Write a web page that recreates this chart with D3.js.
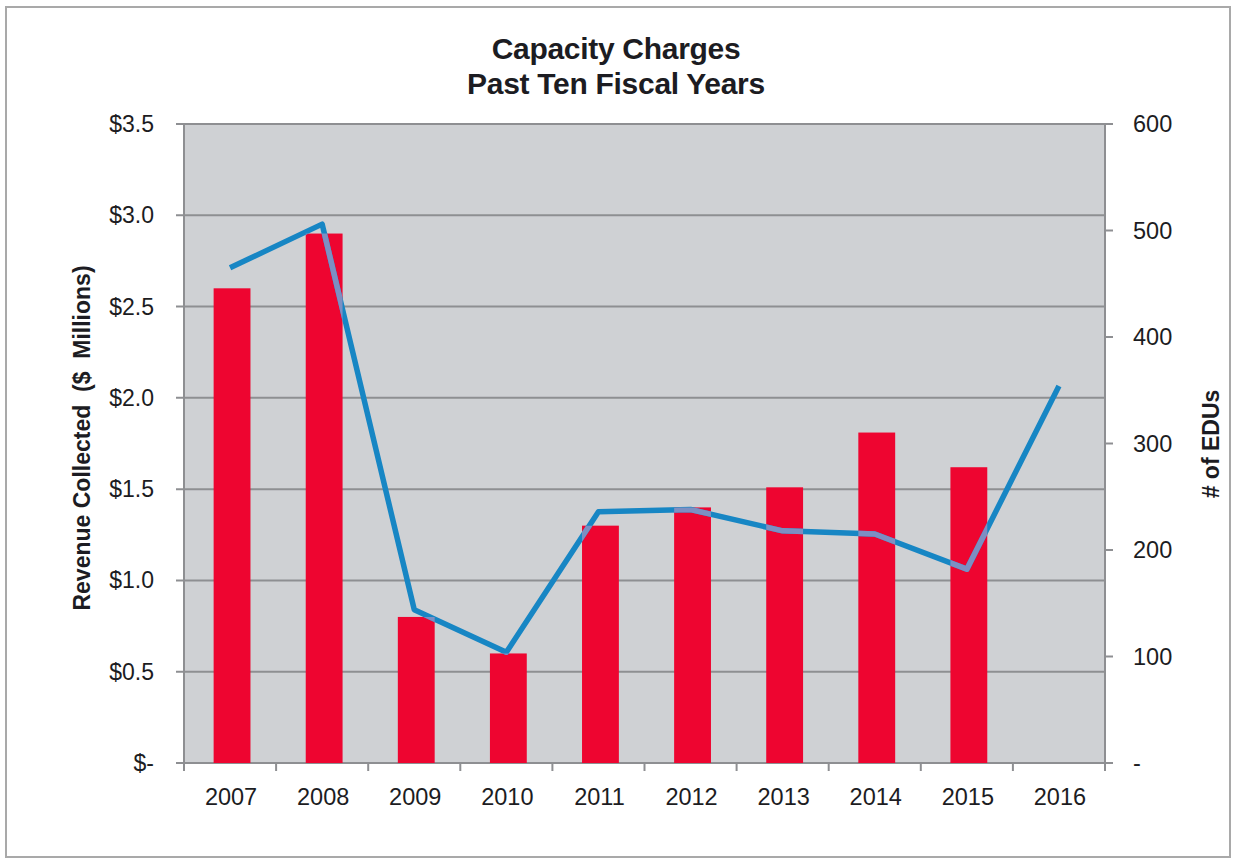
<!DOCTYPE html>
<html>
<head>
<meta charset="utf-8">
<script src="https://cdn.jsdelivr.net/npm/d3@7"></script>
<style>
  body { margin: 0; background: #fff; }
  svg text { font-family: "Liberation Sans", Arial, sans-serif; fill: #1c1c22; }
</style>
</head>
<body>
<div id="theChart"></div>
<script>
const years = ["2007", "2008", "2009", "2010", "2011", "2012", "2013", "2014", "2015", "2016"]
const revenue = [2.6, 2.9, 0.8, 0.6, 1.3, 1.4, 1.51, 1.81, 1.62, null]
const edus = [465, 506, 144, 104, 236, 238, 218, 215, 182, 354]
const leftTicks = [0, 0.5, 1, 1.5, 2, 2.5, 3, 3.5]
const rightTicks = [0, 100, 200, 300, 400, 500, 600]

const w = 1236
const h = 860
const plot = { left: 184, right: 1105, top: 124, bottom: 763 }

const svg = d3.select("#theChart")
  .append("svg")
  .attr("width", w)
  .attr("height", h)

// outer frame
svg.append("rect")
  .attr("x", 6).attr("y", 7)
  .attr("width", 1224).attr("height", 850)
  .attr("fill", "none")
  .attr("stroke", "#a9a9a9")
  .attr("stroke-width", 2)

const x = d3.scaleBand()
  .domain(years)
  .range([plot.left, plot.right])
  .paddingInner(0.6)
  .paddingOuter(0.3)

const xBand = d3.scaleBand().domain(years).range([plot.left, plot.right])

const yL = d3.scaleLinear().domain([0, 3.5]).range([plot.bottom, plot.top])
const yR = d3.scaleLinear().domain([0, 600]).range([plot.bottom, plot.top])

// plot background
svg.append("rect")
  .attr("x", plot.left).attr("y", plot.top)
  .attr("width", plot.right - plot.left)
  .attr("height", plot.bottom - plot.top)
  .attr("fill", "#cfd1d4")

// gridlines
svg.append("g")
  .selectAll("line")
  .data(leftTicks)
  .join("line")
  .attr("x1", plot.left - 8)
  .attr("x2", plot.right)
  .attr("y1", d => yL(d))
  .attr("y2", d => yL(d))
  .attr("stroke", "#8e8f92")
  .attr("stroke-width", 2)

// left axis line
svg.append("line")
  .attr("x1", plot.left).attr("x2", plot.left)
  .attr("y1", plot.top).attr("y2", plot.bottom)
  .attr("stroke", "#8e8f92").attr("stroke-width", 2)

// right axis line + ticks
svg.append("line")
  .attr("x1", plot.right).attr("x2", plot.right)
  .attr("y1", plot.top).attr("y2", plot.bottom)
  .attr("stroke", "#8e8f92").attr("stroke-width", 2)

svg.append("g")
  .selectAll("line")
  .data(rightTicks)
  .join("line")
  .attr("x1", plot.right)
  .attr("x2", plot.right + 8)
  .attr("y1", d => yR(d))
  .attr("y2", d => yR(d))
  .attr("stroke", "#8e8f92")
  .attr("stroke-width", 2)

// bottom ticks at band edges
svg.append("g")
  .selectAll("line")
  .data(years.concat(["end"]))
  .join("line")
  .attr("x1", (d, i) => plot.left + i * xBand.bandwidth())
  .attr("x2", (d, i) => plot.left + i * xBand.bandwidth())
  .attr("y1", plot.bottom)
  .attr("y2", plot.bottom + 8)
  .attr("stroke", "#8e8f92")
  .attr("stroke-width", 2)

// bars
const barData = years.map((y, i) => ({ year: y, v: revenue[i] })).filter(d => d.v != null)

svg.append("g")
  .selectAll("rect")
  .data(barData)
  .join("rect")
  .attr("x", d => x(d.year) + 2)
  .attr("y", d => yL(d.v))
  .attr("width", x.bandwidth())
  .attr("height", d => yL(0) - yL(d.v))
  .attr("fill", "#ee0530")

// clip path of bars, for the faded line on top of them
const clip = svg.append("clipPath").attr("id", "barClip")
clip.selectAll("rect")
  .data(barData)
  .join("rect")
  .attr("x", d => x(d.year) + 2)
  .attr("y", d => yL(d.v))
  .attr("width", x.bandwidth())
  .attr("height", d => yL(0) - yL(d.v))

const line = d3.line()
  .x((d, i) => xBand(years[i]) + xBand.bandwidth() / 2)
  .y(d => yR(d))

svg.append("path")
  .datum(edus)
  .attr("d", line)
  .attr("fill", "none")
  .attr("stroke", "#1786c4")
  .attr("stroke-width", 5.5)
  .attr("stroke-linejoin", "round")

svg.append("path")
  .datum(edus)
  .attr("d", line)
  .attr("fill", "none")
  .attr("stroke", "#7d8fc2")
  .attr("stroke-width", 5.5)
  .attr("stroke-linejoin", "round")
  .attr("clip-path", "url(#barClip)")

// left tick labels
svg.append("g")
  .selectAll("text")
  .data(leftTicks)
  .join("text")
  .attr("x", 154)
  .attr("y", d => yL(d) + 8)
  .attr("text-anchor", "end")
  .style("font-size", "23px")
  .text(d => d === 0 ? "$-" : "$" + d.toFixed(1))

// right tick labels
svg.append("g")
  .selectAll("text")
  .data(rightTicks)
  .join("text")
  .attr("x", 1133)
  .attr("y", d => yR(d) + 8)
  .attr("text-anchor", "start")
  .style("font-size", "23.5px")
  .text(d => d === 0 ? "-" : d)

// x labels
svg.append("g")
  .selectAll("text")
  .data(years)
  .join("text")
  .attr("x", d => xBand(d) + xBand.bandwidth() / 2 + 1)
  .attr("y", 805)
  .attr("text-anchor", "middle")
  .style("font-size", "23.5px")
  .text(d => d)

// title
svg.append("text")
  .attr("x", 616).attr("y", 59)
  .attr("text-anchor", "middle")
  .style("font-size", "30px").style("font-weight", "bold")
  .style("letter-spacing", "-0.3px")
  .text("Capacity Charges")
svg.append("text")
  .attr("x", 616).attr("y", 94)
  .attr("text-anchor", "middle")
  .style("font-size", "30px").style("font-weight", "bold")
  .style("letter-spacing", "-0.3px")
  .text("Past Ten Fiscal Years")

// axis titles
svg.append("text")
  .attr("transform", "translate(90, 438) rotate(-90)")
  .attr("text-anchor", "middle")
  .style("font-size", "23px").style("font-weight", "bold")
  .style("white-space", "pre")
  .text("Revenue Collected  ($  Millions)")

svg.append("text")
  .attr("transform", "translate(1219, 444) rotate(-90)")
  .attr("text-anchor", "middle")
  .style("font-size", "23px").style("font-weight", "bold")
  .text("# of EDUs")
</script>
</body>
</html>
